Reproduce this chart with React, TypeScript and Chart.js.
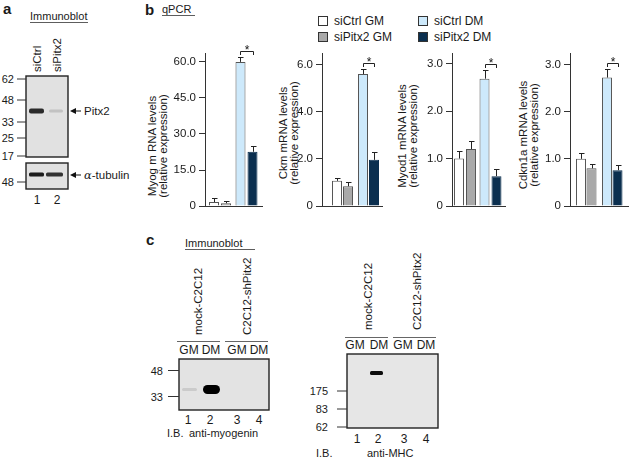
import React, { useEffect, useRef } from 'react';
import { Chart, registerables } from 'chart.js';

Chart.register(...registerables);

const FONT = '"Liberation Sans", Arial, Helvetica, sans-serif';

// ---------- data ----------
const groups = ['GM', 'DM'];
const seriesNames = ['siCtrl', 'siPitx2'];
const legendLabels = ['siCtrl GM', 'siPitx2 GM', 'siCtrl DM', 'siPitx2 DM'];
const barColors = ['#ffffff', '#a9a9a9', '#cde9fb', '#0b2f4f'];
const barBorders = ['#555555', '#555555', '#555555', '#0b2f4f'];

// order of every series: siCtrl GM, siPitx2 GM, siCtrl DM, siPitx2 DM
const myogMeans = [1.7, 1.2, 60.0, 22.6];
const myogErrors = [1.5, 0.9, 2.0, 2.4];
const myogTicks = [0, 15, 30, 45, 60];
const myogTickLabels = ['0', '15.0', '30.0', '45.0', '60.0'];
const myogTitle = ['Myog m RNA levels', '(relative expression)'];

const ckmMeans = [1.07, 0.84, 5.6, 1.96];
const ckmErrors = [0.13, 0.2, 0.2, 0.34];
const ckmTicks = [0, 2, 4, 6];
const ckmTickLabels = ['0', '2.0', '4.0', '6.0'];
const ckmTitle = ['Ckm mRNA levels', '(relative expression)'];

const myod1Means = [1.0, 1.2, 2.68, 0.63];
const myod1Errors = [0.15, 0.17, 0.18, 0.16];
const myod1Ticks = [0, 1, 2, 3];
const myod1TickLabels = ['0', '1.0', '2.0', '3.0'];
const myod1Title = ['Myod1 mRNA levels', '(relative expression)'];

const cdkn1aMeans = [1.0, 0.8, 2.72, 0.76];
const cdkn1aErrors = [0.13, 0.1, 0.18, 0.1];
const cdkn1aTicks = [0, 1, 2, 3];
const cdkn1aTickLabels = ['0', '1.0', '2.0', '3.0'];
const cdkn1aTitle = ['Cdkn1a mRNA levels', '(relative expression)'];

const panelAMarkers = ['62', '48', '33', '25', '17'];
const panelATubulinMarker = '48';
const panelALanes = ['1', '2'];
const panelASamples = ['siCtrl', 'siPitx2'];
const panelCSamples = ['mock-C2C12', 'C2C12-shPitx2'];
const panelCMedia = ['GM', 'DM', 'GM', 'DM'];
const panelCLanes = ['1', '2', '3', '4'];
const myogeninMarkers = ['48', '33'];
const mhcMarkers = ['175', '83', '62'];

// ---------- layout ----------
type ChartCfg = {
  left: number; width: number; yW: number; padR: number;
  title: string[]; titleX: number[]; titleY: number;
  means: number[]; errors: number[]; ticks: number[]; tickLabels: string[];
  yMax: number; xMin: number; xMax: number; catPct: number; barPct: number;
};

const chartCfgs: ChartCfg[] = [
  { left: 140, width: 125, yW: 65, padR: 3, title: myogTitle, titleX: [152, 163], titleY: 146,
    means: myogMeans, errors: myogErrors, ticks: myogTicks, tickLabels: myogTickLabels,
    yMax: 63.7, xMin: -0.566, xMax: 1.585, catPct: 0.906, barPct: 0.833 },
  { left: 270, width: 115, yW: 52, padR: 3, title: ckmTitle, titleX: [283, 294], titleY: 133,
    means: ckmMeans, errors: ckmErrors, ticks: ckmTicks, tickLabels: ckmTickLabels,
    yMax: 6.49, xMin: -0.788, xMax: 1.519, catPct: 0.846, barPct: 0.91 },
  { left: 390, width: 118, yW: 62, padR: 3, title: myod1Title, titleX: [402, 413], titleY: 136,
    means: myod1Means, errors: myod1Errors, ticks: myod1Ticks, tickLabels: myod1TickLabels,
    yMax: 3.22, xMin: -0.51, xMax: 1.569, catPct: 0.94, barPct: 0.833 },
  { left: 512, width: 117, yW: 58, padR: 1, title: cdkn1aTitle, titleX: [523, 534], titleY: 135,
    means: cdkn1aMeans, errors: cdkn1aErrors, ticks: cdkn1aTicks, tickLabels: cdkn1aTickLabels,
    yMax: 3.24, xMin: -0.625, xMax: 1.606, catPct: 0.81, barPct: 0.95 },
];

const CH_TOP = 40;
const CH_H = 176;

const errorPlugin = {
  id: 'errorBars',
  afterDatasetsDraw(chart: any) {
    const ctx = chart.ctx;
    const y = chart.scales.y;
    ctx.save();
    ctx.strokeStyle = '#222';
    ctx.lineWidth = 1;
    const tops: number[][] = [];
    chart.data.datasets.forEach((ds: any, di: number) => {
      const meta = chart.getDatasetMeta(di);
      tops[di] = [];
      meta.data.forEach((el: any, gi: number) => {
        const v = ds.data[gi].y + ds.errors[gi];
        const top = Math.round(y.getPixelForValue(v)) + 0.5;
        const x = Math.round(el.x) + 0.5;
        tops[di][gi] = top;
        ctx.beginPath();
        ctx.moveTo(x, el.y);
        ctx.lineTo(x, top);
        ctx.moveTo(x - 2.5, top);
        ctx.lineTo(x + 3, top);
        ctx.stroke();
      });
    });
    // significance bracket between the two DM bars
    const a = chart.getDatasetMeta(0).data[1];
    const b = chart.getDatasetMeta(1).data[1];
    const yb = Math.min(tops[0][1], tops[1][1]) - 6;
    const x1 = Math.round(a.x) + 0.5;
    const x2 = Math.round(b.x) + 0.5;
    ctx.beginPath();
    ctx.moveTo(x1, yb + 3.5);
    ctx.lineTo(x1, yb);
    ctx.lineTo(x2, yb);
    ctx.lineTo(x2, yb + 3.5);
    ctx.stroke();
    ctx.fillStyle = '#111';
    ctx.font = `12px ${FONT}`;
    ctx.textAlign = 'center';
    ctx.textBaseline = 'alphabetic';
    ctx.fillText('*', (x1 + x2) / 2, yb + 2.5);
    ctx.restore();
  },
};

function BarChart({ cfg }: { cfg: ChartCfg }) {
  const ref = useRef<HTMLCanvasElement>(null);
  useEffect(() => {
    const datasets = seriesNames.map((name, si) => {
      const idx = groups.map((_, gi) => gi * 2 + si);
      return {
        label: name,
        data: groups.map((_, gi) => ({ x: gi, y: cfg.means[idx[gi]] })),
        errors: idx.map((k) => cfg.errors[k]),
        backgroundColor: idx.map((k) => barColors[k]),
        borderColor: idx.map((k) => barBorders[k]),
        borderWidth: 1,
        categoryPercentage: cfg.catPct,
        barPercentage: cfg.barPct,
      };
    });
    const chart = new Chart(ref.current as HTMLCanvasElement, {
      type: 'bar',
      data: { datasets } as any,
      options: {
        animation: false,
        responsive: false,
        maintainAspectRatio: false,
        devicePixelRatio: 1,
        events: [],
        layout: { padding: { top: 13, bottom: 5, left: 0, right: cfg.padR } },
        plugins: { legend: { display: false }, tooltip: { enabled: false }, title: { display: false } },
        scales: {
          x: {
            type: 'linear',
            offset: false,
            min: cfg.xMin,
            max: cfg.xMax,
            afterBuildTicks: (s: any) => { s.ticks = groups.map((_, gi) => ({ value: gi })); },
            ticks: { display: false },
            grid: { display: false, drawTicks: false, offset: false },
            border: { display: true, color: '#333', width: 1 },
            afterFit: (s: any) => { s.height = 0; },
          },
          y: {
            min: 0,
            max: cfg.yMax,
            afterBuildTicks: (s: any) => { s.ticks = cfg.ticks.map((v) => ({ value: v })); },
            ticks: {
              autoSkip: false,
              padding: 3,
              color: '#1a1a1a',
              font: { family: FONT, size: 11.5 },
              callback: (_v: any, i: number) => cfg.tickLabels[i],
            },
            grid: { drawOnChartArea: false, drawTicks: true, tickLength: 6, color: '#333' },
            border: { display: true, color: '#333', width: 1 },
            title: { display: false },
            afterFit: (s: any) => { s.width = cfg.yW; },
          },
        },
      } as any,
      plugins: [errorPlugin],
    });
    return () => chart.destroy();
  }, []);
  return (
    <canvas
      ref={ref}
      width={cfg.width}
      height={CH_H}
      style={{ position: 'absolute', left: cfg.left, top: CH_TOP, width: cfg.width, height: CH_H }}
    />
  );
}

function Txt(p: any) {
  const { children, size = 11.5, weight = 400, anchor = 'start', ...rest } = p;
  return (
    <text fontFamily={FONT} fontSize={size} fontWeight={weight} textAnchor={anchor} fill="#1a1a1a" {...rest}>
      {children}
    </text>
  );
}

// vertical text reading bottom-to-top; (x, y) = baseline start (or middle when anchor="middle")
function VTxt({ x, y, children, size = 11.5, anchor = 'start' }: any) {
  return (
    <text fontFamily={FONT} fontSize={size} fill="#1a1a1a" textAnchor={anchor} transform={`translate(${x},${y}) rotate(-90)`}>
      {children}
    </text>
  );
}

function Figure() {
  const aMarkerY = [79, 100, 122, 138, 156];
  const legendPos = [
    { x: 318, y: 16 }, { x: 318, y: 32 }, { x: 418, y: 16 }, { x: 418, y: 32 },
  ];
  const cLeftLaneX = [189, 211, 237, 259];
  const cLeftNumX = [188, 210, 237, 259];
  const cRightLaneX = [355, 379, 403, 426];
  const cRightNumX = [357, 378, 404, 426];
  const myogeninY = [370.5, 396.5];
  const mhcY = [391, 409, 427];
  return (
    <svg width={629} height={460} style={{ position: 'absolute', left: 0, top: 0 }}>
      <defs>
        <filter id="soft" x="-20%" y="-50%" width="140%" height="200%">
          <feGaussianBlur stdDeviation="0.7" />
        </filter>
      </defs>
      {/* ---------- panel a ---------- */}
      <Txt x={3} y={14} size={15} weight={700}>a</Txt>
      <Txt x={30} y={20} size={11}>Immunoblot</Txt>
      <line x1={30} x2={88} y1={22.5} y2={22.5} stroke="#333" strokeWidth={0.8} />
      <VTxt x={41} y={72}>{panelASamples[0]}</VTxt>
      <VTxt x={61} y={72}>{panelASamples[1]}</VTxt>
      <rect x={26} y={76} width={42} height={81} fill="#e1e1e1" stroke="#222" strokeWidth={1.4} />
      {panelAMarkers.map((m, i) => (
        <g key={'am' + i}>
          <Txt x={14} y={aMarkerY[i]} size={11} anchor="end" dominantBaseline="central">{m}</Txt>
          <line x1={17} x2={26} y1={aMarkerY[i]} y2={aMarkerY[i]} stroke="#333" strokeWidth={1} />
        </g>
      ))}
      <rect x={29} y={108.5} width={15} height={5} rx={2} fill="#2a2a2a" filter="url(#soft)" />
      <rect x={49} y={109.5} width={14} height={3} rx={1.5} fill="#c2c2c2" filter="url(#soft)" />
      <rect x={26} y={163} width={42} height={26} fill="#e1e1e1" stroke="#222" strokeWidth={1.4} />
      <Txt x={14} y={182} size={11} anchor="end" dominantBaseline="central">{panelATubulinMarker}</Txt>
      <line x1={17} x2={26} y1={182} y2={182} stroke="#333" strokeWidth={1} />
      <rect x={29} y={172.5} width={15} height={4} rx={1.5} fill="#1a1a1a" filter="url(#soft)" />
      <rect x={46} y={172.5} width={17} height={4} rx={1.5} fill="#333" filter="url(#soft)" />
      <line x1={74} x2={81} y1={111} y2={111} stroke="#111" strokeWidth={1} />
      <polygon points="70,111 76,108 76,114" fill="#111" />
      <Txt x={84} y={111} dominantBaseline="central">Pitx2</Txt>
      <line x1={74} x2={81} y1={175} y2={175} stroke="#111" strokeWidth={1} />
      <polygon points="70,175 76,172 76,178" fill="#111" />
      <Txt x={84} y={175} dominantBaseline="central">
        <tspan fontFamily='"DejaVu Serif", serif' fontStyle="italic">α</tspan>-tubulin
      </Txt>
      <Txt x={37} y={200} size={12} anchor="middle" dominantBaseline="central">{panelALanes[0]}</Txt>
      <Txt x={57} y={200} size={12} anchor="middle" dominantBaseline="central">{panelALanes[1]}</Txt>

      {/* ---------- panel b ---------- */}
      <Txt x={145} y={15} size={15} weight={700}>b</Txt>
      <Txt x={162} y={13} size={11}>qPCR</Txt>
      <line x1={162} x2={195} y1={15.5} y2={15.5} stroke="#333" strokeWidth={0.8} />
      {legendLabels.map((l, i) => (
        <g key={'lg' + i}>
          <rect x={legendPos[i].x + 0.5} y={legendPos[i].y + 0.5} width={9} height={9} fill={barColors[i]} stroke="#333" strokeWidth={1} />
          <Txt x={legendPos[i].x + 16} y={legendPos[i].y + 5} size={12} dominantBaseline="central">{l}</Txt>
        </g>
      ))}
      {chartCfgs.map((c, ci) => (
        <g key={'ttl' + ci}>
          {c.title.map((t, li) => (
            <VTxt key={li} x={c.titleX[li] + 4} y={c.titleY} anchor="middle">{t}</VTxt>
          ))}
        </g>
      ))}

      {/* ---------- panel c (left) ---------- */}
      <Txt x={146} y={245} size={15} weight={700}>c</Txt>
      <Txt x={185} y={247} size={11}>Immunoblot</Txt>
      <line x1={185} x2={255} y1={249.5} y2={249.5} stroke="#333" strokeWidth={0.8} />
      <VTxt x={202} y={335}>{panelCSamples[0]}</VTxt>
      <VTxt x={251} y={335}>{panelCSamples[1]}</VTxt>
      <line x1={177} x2={220} y1={341.5} y2={341.5} stroke="#666" strokeWidth={1} />
      <line x1={225} x2={268} y1={341.5} y2={341.5} stroke="#666" strokeWidth={1} />
      {panelCMedia.map((m, i) => (
        <Txt key={'cm' + i} x={cLeftLaneX[i]} y={350} size={12} anchor="middle" dominantBaseline="central">{m}</Txt>
      ))}
      <rect x={179} y={359} width={90} height={51} fill="#e3e3e3" stroke="#222" strokeWidth={1.4} />
      {myogeninMarkers.map((m, i) => (
        <g key={'mm' + i}>
          <Txt x={163} y={myogeninY[i]} size={11} anchor="end" dominantBaseline="central">{m}</Txt>
          <line x1={168} x2={179} y1={myogeninY[i]} y2={myogeninY[i]} stroke="#333" strokeWidth={1} />
        </g>
      ))}
      <rect x={182} y={388} width={15} height={3} rx={1.5} fill="#cbcbcb" filter="url(#soft)" />
      <rect x={203} y={385} width={17} height={9} rx={4.5} fill="#000" filter="url(#soft)" />
      {panelCLanes.map((l, i) => (
        <Txt key={'cl' + i} x={cLeftNumX[i]} y={420} size={12} anchor="middle" dominantBaseline="central">{l}</Txt>
      ))}
      <Txt x={167} y={433} size={11} dominantBaseline="central">I.B.</Txt>
      <Txt x={189} y={433} size={11} dominantBaseline="central">anti-myogenin</Txt>

      {/* ---------- panel c (right) ---------- */}
      <VTxt x={372} y={330}>{panelCSamples[0]}</VTxt>
      <VTxt x={421} y={330}>{panelCSamples[1]}</VTxt>
      <line x1={345} x2={388} y1={337.5} y2={337.5} stroke="#666" strokeWidth={1} />
      <line x1={393} x2={436} y1={337.5} y2={337.5} stroke="#666" strokeWidth={1} />
      {panelCMedia.map((m, i) => (
        <Txt key={'rm' + i} x={cRightLaneX[i]} y={345} size={12} anchor="middle" dominantBaseline="central">{m}</Txt>
      ))}
      <rect x={347} y={354} width={91} height={74} fill="#e6e6e6" stroke="#222" strokeWidth={1.4} />
      {mhcMarkers.map((m, i) => (
        <g key={'hm' + i}>
          <Txt x={328} y={mhcY[i]} size={11} anchor="end" dominantBaseline="central">{m}</Txt>
          <line x1={337} x2={347} y1={mhcY[i]} y2={mhcY[i]} stroke="#333" strokeWidth={1} />
        </g>
      ))}
      <rect x={370} y={371} width={13} height={4} rx={1.5} fill="#111" filter="url(#soft)" />
      {panelCLanes.map((l, i) => (
        <Txt key={'rl' + i} x={cRightNumX[i]} y={439} size={12} anchor="middle" dominantBaseline="central">{l}</Txt>
      ))}
      <Txt x={316} y={453} size={11} dominantBaseline="central">I.B.</Txt>
      <Txt x={367} y={453} size={11} dominantBaseline="central">anti-MHC</Txt>
    </svg>
  );
}

export default function App() {
  return (
    <div style={{ position: 'absolute', left: 0, top: 0, width: 629, height: 460, background: '#fff', overflow: 'hidden' }}>
      <Figure />
      {chartCfgs.map((c, i) => (
        <BarChart key={i} cfg={c} />
      ))}
    </div>
  );
}
